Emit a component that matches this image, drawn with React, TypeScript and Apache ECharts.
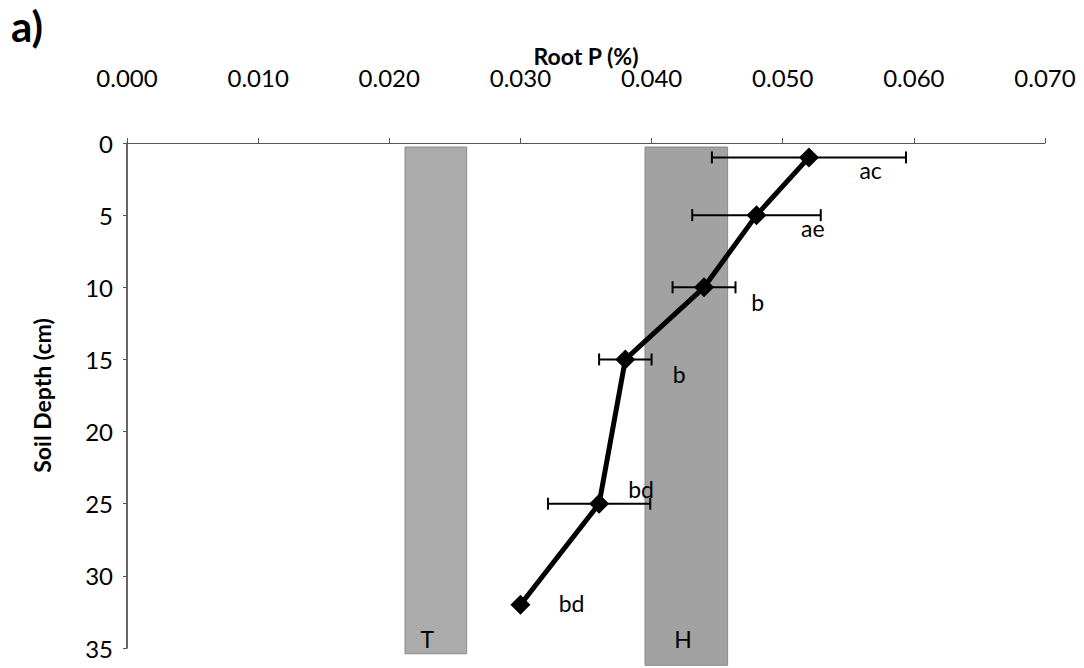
import React, { useEffect, useRef } from "react";
import * as echarts from "echarts";

const depths = [1, 5, 10, 15, 25, 32];
const rootP = [0.052, 0.048, 0.044, 0.038, 0.036, 0.030];
const errP = [0.0074, 0.0049, 0.0024, 0.002, 0.0039, 0];
const letters = ["ac", "ae", "b", "b", "bd", "bd"];
const letterX = [0.0567, 0.0523, 0.0481, 0.0421, 0.0392, 0.0339];
const letterY = [1.9, 5.9, 11.0, 16.0, 24.0, 31.9];
const bandNames = ["T", "H"];
const bandX0 = [0.0212, 0.0395];
const bandX1 = [0.0259, 0.0458];
const bandTop = [0.28, 0.28];
const bandBottom = [35.4, 36.2];
const bandLabelX = [0.0229, 0.0424];
const bandLabelY = [34.4, 34.4];
const bandColors = ["#ababab", "#a2a2a2"];
const xTicks = { min: 0, max: 0.07, interval: 0.01 };
const yTicks = { min: 0, max: 35, interval: 5 };

const FONT = "Lato, 'Open Sans', sans-serif";

export default function App() {
  const ref = useRef<HTMLDivElement>(null);
  useEffect(() => {
    if (!ref.current) return;
    const chart = echarts.init(ref.current, undefined, { renderer: "svg" });
    const bandData = bandNames.map((n, i) => [bandX0[i], bandX1[i], bandTop[i], bandBottom[i], i]);
    const errData = depths.map((d, i) => [rootP[i] - errP[i], rootP[i] + errP[i], d]).filter((_, i) => errP[i] > 0);
    const lbl = {
      show: true,
      position: "inside",
      formatter: (p: any) => p.name,
      fontSize: 23,
      color: "#000",
      opacity: 1,
      textBorderWidth: 0,
      fontFamily: FONT,
    };
    chart.setOption({
      animation: false,
      backgroundColor: "#ffffff",
      textStyle: { fontFamily: FONT },
      title: {
        text: "a)",
        left: 6,
        top: 0,
        textStyle: { fontSize: 42, fontWeight: "bold", color: "#000", fontFamily: FONT },
      },
      grid: { left: 127, top: 143, right: 39, bottom: 20 },
      xAxis: {
        type: "value",
        position: "top",
        min: xTicks.min,
        max: xTicks.max,
        interval: xTicks.interval,
        name: "Root P (%)",
        nameLocation: "middle",
        nameGap: 76,
        nameMoveOverlap: false,
        nameTextStyle: { fontSize: 23, fontWeight: "bold", color: "#000", fontFamily: FONT },
        axisLine: { show: true, lineStyle: { color: "#555", width: 1 } },
        axisTick: { show: true, length: 5, lineStyle: { color: "#555" } },
        axisLabel: {
          formatter: (v: number) => v.toFixed(3),
          fontSize: 24,
          color: "#000",
          margin: 54,
          fontFamily: FONT,
        },
        splitLine: { show: false },
      },
      yAxis: {
        type: "value",
        inverse: true,
        min: yTicks.min,
        max: yTicks.max,
        interval: yTicks.interval,
        name: "Soil Depth (cm)",
        nameLocation: "middle",
        nameGap: 74,
        nameMoveOverlap: false,
        nameRotate: 90,
        nameTextStyle: { fontSize: 23, fontWeight: "bold", color: "#000", fontFamily: FONT },
        axisLine: { show: true, lineStyle: { color: "#333", width: 1.5 } },
        axisTick: { show: true, length: 4, lineStyle: { color: "#555" } },
        axisLabel: { fontSize: 24, color: "#000", margin: 14, fontFamily: FONT },
        splitLine: { show: false },
      },
      series: [
        {
          type: "custom",
          clip: false,
          z: 1,
          data: bandData,
          renderItem: (params: any, api: any) => {
            const p0 = api.coord([api.value(0), api.value(2)]);
            const p1 = api.coord([api.value(1), api.value(3)]);
            const idx = api.value(4);
            return {
              type: "rect",
              shape: { x: p0[0], y: p0[1], width: p1[0] - p0[0], height: p1[1] - p0[1] },
              style: { fill: bandColors[idx], stroke: "#8a8a8a", lineWidth: 1 },
            };
          },
        },
        {
          type: "scatter",
          z: 2,
          symbolSize: 0,
          itemStyle: { opacity: 1 },
          data: bandNames.map((n, i) => ({ value: [bandLabelX[i], bandLabelY[i]], name: n })),
          label: lbl,
          silent: true,
        },
        {
          type: "custom",
          z: 3,
          clip: false,
          data: errData,
          renderItem: (params: any, api: any) => {
            const a = api.coord([api.value(0), api.value(2)]);
            const b = api.coord([api.value(1), api.value(2)]);
            const h = 6;
            const st = { stroke: "#000", lineWidth: 2 };
            return {
              type: "group",
              children: [
                { type: "line", shape: { x1: a[0], y1: a[1], x2: b[0], y2: b[1] }, style: st },
                { type: "line", shape: { x1: a[0], y1: a[1] - h, x2: a[0], y2: a[1] + h }, style: st },
                { type: "line", shape: { x1: b[0], y1: b[1] - h, x2: b[0], y2: b[1] + h }, style: st },
              ],
            };
          },
        },
        {
          type: "line",
          z: 4,
          data: depths.map((d, i) => [rootP[i], d]),
          symbol: "diamond",
          symbolSize: 20,
          lineStyle: { color: "#000", width: 5 },
          itemStyle: { color: "#000" },
        },
        {
          type: "scatter",
          z: 5,
          symbolSize: 0,
          itemStyle: { opacity: 1 },
          data: letters.map((t, i) => ({ value: [letterX[i], letterY[i]], name: t })),
          label: lbl,
          silent: true,
        },
      ],
    });
    return () => chart.dispose();
  }, []);
  return (
    <div
      ref={ref}
      style={{ position: "fixed", left: 0, top: 0, width: 1084, height: 668, background: "#fff" }}
    />
  );
}
